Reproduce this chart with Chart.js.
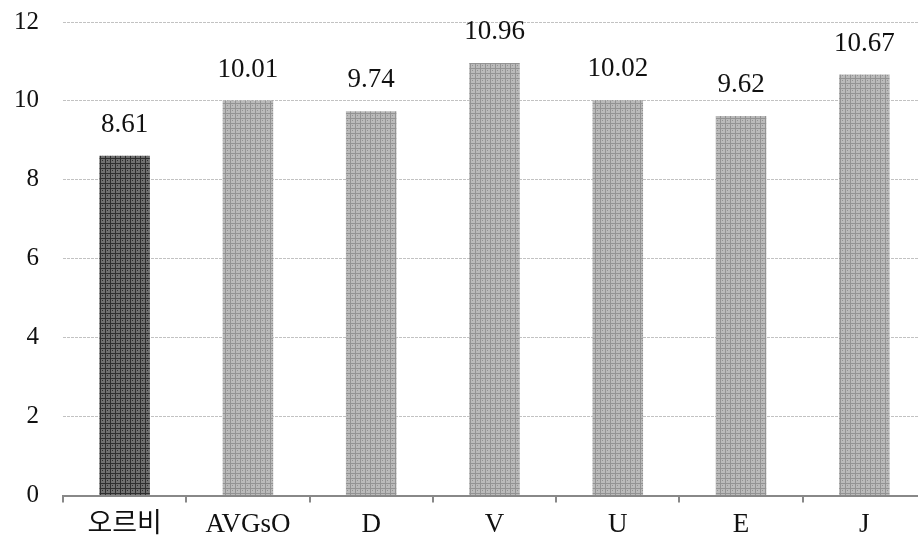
<!DOCTYPE html>
<html>
<head>
<meta charset="utf-8">
<script src="https://cdn.jsdelivr.net/npm/chart.js@4"></script>
<style>
  html, body { margin: 0; padding: 0; background: #fff; overflow: hidden; }
  #wrap { width: 930px; height: 566px; margin-top: -17px; }
</style>
</head>
<body>
<div id="wrap"><canvas id="barChart" width="930" height="566"></canvas></div>
<script>
const categories = ['오르비', 'AVGsO', 'D', 'V', 'U', 'E', 'J'];
const scores = [8.61, 10.01, 9.74, 10.96, 10.02, 9.62, 10.67];
const yTicks = [0, 2, 4, 6, 8, 10, 12];

const FONT = "'Liberation Serif', 'Noto Sans CJK KR', serif";

// small checkered tiles used as bar fills
function makePattern(bg, line) {
    const c = document.createElement('canvas');
    c.width = 5;
    c.height = 5;
    const g = c.getContext('2d');
    g.fillStyle = bg;
    g.fillRect(0, 0, 5, 5);
    g.fillStyle = line;
    g.fillRect(0, 0, 5, 1);
    g.fillRect(0, 0, 1, 5);
    g.fillRect(2, 2, 1, 1);
    return g.createPattern(c, 'repeat');
}
const ctx = document.getElementById('barChart').getContext('2d');
const darkFill = makePattern('#707070', '#2e2e2e');
const lightFill = makePattern('#bababa', '#939393');

const valueLabels = {
    id: 'valueLabels',
    afterDatasetsDraw(chart) {
        const c = chart.ctx;
        const meta = chart.getDatasetMeta(0);
        c.save();
        c.font = '27px ' + FONT;
        c.fillStyle = '#111';
        c.textAlign = 'center';
        c.textBaseline = 'middle';
        meta.data.forEach((bar, i) => {
            c.fillText(scores[i].toFixed(2), bar.x, bar.y - 31);
        });
        c.restore();
    }
};

new Chart(ctx, {
    type: 'bar',
    data: {
        labels: categories,
        datasets: [{
            data: scores,
            backgroundColor: scores.map((v, i) => i === 0 ? darkFill : lightFill),
            borderWidth: 0,
            barPercentage: 0.41,
            categoryPercentage: 1
        }]
    },
    options: {
        responsive: false,
        animation: false,
        layout: { padding: { left: 4, right: 4, top: 0, bottom: 2 } },
        plugins: {
            legend: { display: false },
            tooltip: { enabled: false }
        },
        scales: {
            x: {
                grid: {
                    drawOnChartArea: false,
                    drawTicks: true,
                    tickLength: 7,
                    color: '#888',
                    lineWidth: 2
                },
                border: { color: '#888', width: 2 },
                ticks: {
                    color: '#111',
                    font: { family: FONT, size: 27 },
                    padding: 6
                }
            },
            y: {
                min: 0,
                max: 12,
                afterBuildTicks(scale) {
                    scale.ticks = yTicks.map(v => ({ value: v }));
                },
                afterFit(scale) {
                    scale.width = 59;
                },
                grid: {
                    color: '#c2c2c2',
                    lineWidth: 1,
                    drawTicks: false
                },
                border: { display: false, dash: [3, 1] },
                ticks: {
                    color: '#111',
                    font: { family: FONT, size: 25 },
                    padding: 24
                }
            }
        }
    },
    plugins: [valueLabels]
});
</script>
</body>
</html>
